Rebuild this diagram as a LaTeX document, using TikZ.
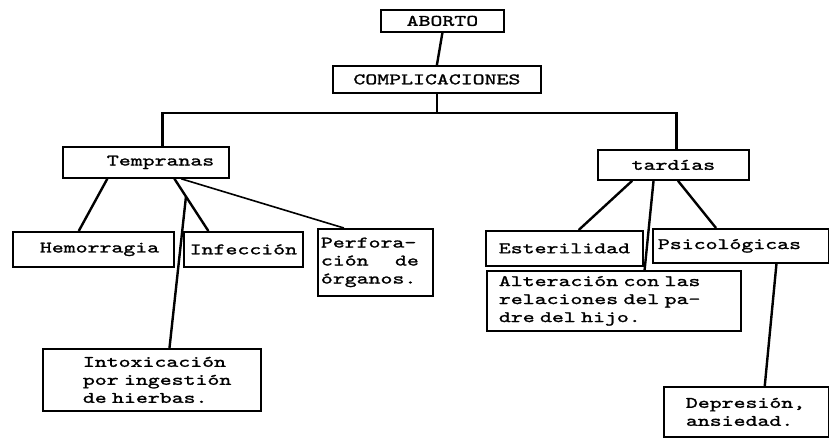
\documentclass[tikz,border=0pt]{standalone}
\usepackage{fontspec}
\newfontfamily\maquina{lmmono10-regular.otf}[FakeStretch=1.42, FakeBold=1.5]
\usetikzlibrary{positioning, calc}

\tikzset{
  caja/.style={draw, line width=1.8pt, anchor=north west, inner sep=0pt, font=\maquina\fontsize{16}{18}\selectfont},
  rama/.style={line width=2.4pt},
  rama fina/.style={line width=1.6pt}
}

\begin{document}
\begin{tikzpicture}[x=1pt, y=-1pt]
  \useasboundingbox (0,0) rectangle (829,438);

  \node[caja, text width=123pt, minimum height=22pt, align=center] (abo) at (380,9) {ABORTO};
  \node[caja, text width=208pt, minimum height=27pt, align=center] (comp) at (332,65) {COMPLICACIONES};
  \node[caja, text width=166pt, minimum height=31pt, align=left] (tem) at (62,146) {\hspace*{44pt}Tempranas};
  \node[caja, text width=151pt, minimum height=30pt, align=center] (tar) at (597,149) {tardías};

  \node[caja, text width=161pt, minimum height=35pt, align=left] (hem) at (12,231) {\hspace*{27pt}Hemorragia};
  \node[caja, text width=119pt, minimum height=35pt, align=center] (inf) at (183,231) {Infección};
  \node[caja, text width=115pt, minimum height=67pt, align=left] (per) at (317,228) {\hspace*{3pt}Perfora-\\ \hspace*{3pt}\makebox[98pt][l]{ción\hfill de}\\ \hspace*{3pt}órganos.};
  \node[caja, text width=218pt, minimum height=62pt, align=left] (intox) at (42,348) {\hspace*{40pt}Intoxicación\\ \hspace*{40pt}por ingestión\\ \hspace*{40pt}de hierbas.};

  \node[caja, text width=157pt, minimum height=35pt, align=center] (est) at (485,230) {Esterilidad};
  \node[caja, text width=176pt, minimum height=34pt, align=left] (psi) at (652,228) {\hspace*{5pt}Psicológicas};
  \node[caja, text width=254pt, minimum height=60pt, align=left] (alt) at (486,270) {\hspace*{12pt}Alteración con las\\ \hspace*{12pt}relaciones del pa-\\ \hspace*{12pt}dre del hijo.};
  \node[caja, text width=165pt, minimum height=50pt, align=left] (dep) at (663,386) {\hspace*{22pt}Depresión,\\ \hspace*{22pt}ansiedad.};

  \coordinate (barra) at ($(comp.south)+(0,19)$);
  \draw[rama] (abo.south) -- (comp.north);
  \draw[rama] (comp.south) -- (barra);
  \draw[rama] ($(tem.north west)!0.6!(tem.north east)$) |- (barra) -| ($(tar.north west)!0.52!(tar.north east)$);

  \draw[rama] ($(tem.south west)!0.27!(tem.south east)$) -- ($(hem.north west)!0.41!(hem.north east)$);
  \draw[rama] ($(tem.south west)!0.67!(tem.south east)$) -- coordinate[pos=0.34] (cruce) ($(inf.north west)!0.21!(inf.north east)$);
  \draw[rama] (cruce) -- ($(intox.north west)!0.58!(intox.north east)$);
  \draw[rama fina] ($(tem.south west)!0.71!(tem.south east)$) -- ($(per.north west)!0.23!(per.north east)$);

  \draw[rama] ($(tar.south west)!0.23!(tar.south east)$) -- ($(est.north west)!0.59!(est.north east)$);
  \draw[rama] ($(tar.south west)!0.37!(tar.south east)$) -- ($(alt.north west)!0.62!(alt.north east)$);
  \draw[rama] ($(tar.south west)!0.53!(tar.south east)$) -- ($(psi.north west)!0.36!(psi.north east)$);
  \draw[rama] ($(psi.south west)!0.7!(psi.south east)$) -- ($(dep.north west)!0.61!(dep.north east)$);
\end{tikzpicture}
\end{document}
